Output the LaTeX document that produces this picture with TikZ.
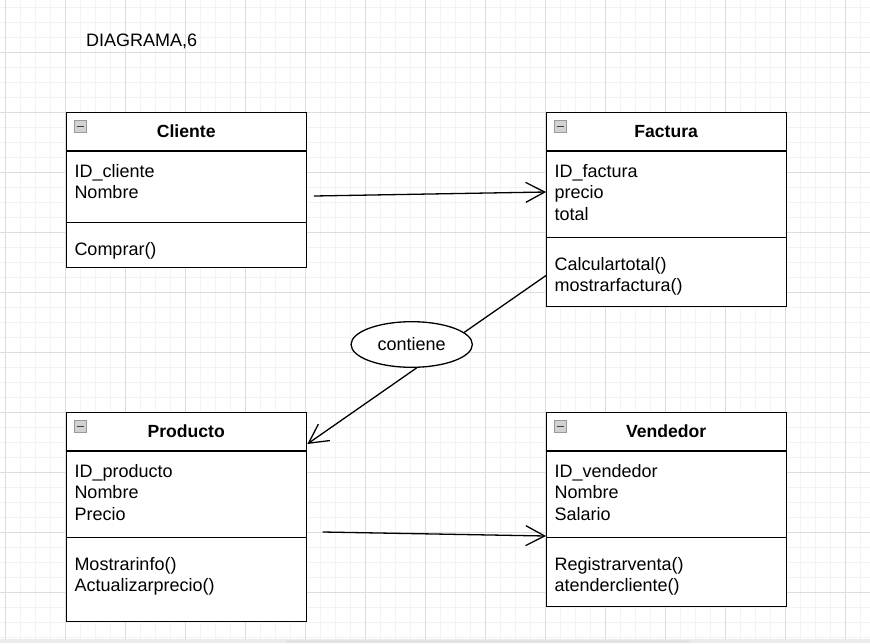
\documentclass[tikz,border=0pt]{standalone}
\usepackage{fontspec}
\setmainfont{Liberation Sans}
\usetikzlibrary{arrows.meta,shapes.geometric,calc}
\definecolor{gridmajor}{HTML}{DDDDDD}
\definecolor{gridminor}{HTML}{F3F3F3}
\definecolor{bandgray}{HTML}{EBEBEB}
\definecolor{bandbar}{HTML}{E3E3E3}
\tikzset{
  classbox/.style={draw=black, fill=white, line width=1.3pt, rectangle, inner sep=0pt},
  sepline/.style={draw=black, line width=1.3pt},
  title/.style={font=\fontsize{17.6}{21}\selectfont\bfseries, inner sep=0pt, anchor=base},
  attr/.style={font=\fontsize{18}{21}\selectfont, inner sep=0pt, anchor=base west},
  conn/.style={draw=black, line width=1.3pt, -{Straight Barb[length=19pt, width=20pt, line width=1.3pt]}},
  plainconn/.style={draw=black, line width=1.3pt},
  iconbox/.style={draw=gray!80, fill=gray!35, line width=0.9pt, rectangle, minimum width=12pt, minimum height=12pt, inner sep=0pt},
}
\begin{document}
\begin{tikzpicture}[x=1pt,y=-1pt]
\useasboundingbox (0,0) rectangle (870,643);
% grid
\foreach \gx in {5,20,...,870} {\draw[gridminor, line width=1pt] (\gx,0) -- (\gx,639);}
\foreach \gy in {7,22,...,639} {\draw[gridminor, line width=1pt] (0,\gy) -- (870,\gy);}
\foreach \gx in {5,65,...,870} {\draw[gridmajor, line width=1pt] (\gx,0) -- (\gx,639);}
\foreach \gy in {52,112,...,639} {\draw[gridmajor, line width=1pt] (0,\gy) -- (870,\gy);}
\fill[bandgray] (0,639) rectangle (870,643);
\fill[bandbar] (286,640) rectangle (689,643);

% title
\node[attr] (diag) at (86,46.7) {DIAGRAMA,6};

% Cliente
\node[classbox, minimum width=240pt, minimum height=155.4pt] (cliente) at (186.7,190) {};
\draw[sepline] (cliente.west |- 0,151) -- (cliente.east |- 0,151);
\draw[sepline] (cliente.west |- 0,222.7) -- (cliente.east |- 0,222.7);
\node[iconbox] (clicon) at (80.4,126.2) {};
\draw[black!75, line width=1.3pt] ($(clicon.center)+(-3.8,0)$) -- ($(clicon.center)+(3.8,0)$);
\node[title] (clt) at (186.2,137.3) {Cliente};
\node[attr] (cla1) at (74.3,177.3) {ID\_cliente};
\node[attr] (cla2) at (74.3,198.6) {Nombre};
\node[attr] (clm1) at (74.3,255) {Comprar()};

% Factura
\node[classbox, minimum width=240pt, minimum height=194.4pt] (factura) at (666.7,209.5) {};
\draw[sepline] (factura.west |- 0,151) -- (factura.east |- 0,151);
\draw[sepline] (factura.west |- 0,237.7) -- (factura.east |- 0,237.7);
\node[iconbox] (faicon) at (560.4,126.2) {};
\draw[black!75, line width=1.3pt] ($(faicon.center)+(-3.8,0)$) -- ($(faicon.center)+(3.8,0)$);
\node[title] (fat) at (666.2,137.3) {Factura};
\node[attr] (faa1) at (554.3,177.3) {ID\_factura};
\node[attr] (faa2) at (554.3,198.6) {precio};
\node[attr] (faa3) at (554.3,220) {total};
\node[attr] (fam1) at (554.3,270.3) {Calculartotal()};
\node[attr] (fam2) at (554.3,291.7) {mostrarfactura()};

% Producto
\node[classbox, minimum width=240pt, minimum height=209.4pt] (producto) at (186.7,517) {};
\draw[sepline] (producto.west |- 0,451) -- (producto.east |- 0,451);
\draw[sepline] (producto.west |- 0,537.7) -- (producto.east |- 0,537.7);
\node[iconbox] (pricon) at (80.4,426.2) {};
\draw[black!75, line width=1.3pt] ($(pricon.center)+(-3.8,0)$) -- ($(pricon.center)+(3.8,0)$);
\node[title] (prt) at (186.2,437.3) {Producto};
\node[attr] (pra1) at (74.3,477.3) {ID\_producto};
\node[attr] (pra2) at (74.3,498.6) {Nombre};
\node[attr] (pra3) at (74.3,520) {Precio};
\node[attr] (prm1) at (74.3,570.3) {Mostrarinfo()};
\node[attr] (prm2) at (74.3,591.7) {Actualizarprecio()};

% Vendedor
\node[classbox, minimum width=240pt, minimum height=194.4pt] (vendedor) at (666.7,509.5) {};
\draw[sepline] (vendedor.west |- 0,451) -- (vendedor.east |- 0,451);
\draw[sepline] (vendedor.west |- 0,537.7) -- (vendedor.east |- 0,537.7);
\node[iconbox] (veicon) at (560.4,426.2) {};
\draw[black!75, line width=1.3pt] ($(veicon.center)+(-3.8,0)$) -- ($(veicon.center)+(3.8,0)$);
\node[title] (vet) at (666.2,437.3) {Vendedor};
\node[attr] (vea1) at (554.3,477.3) {ID\_vendedor};
\node[attr] (vea2) at (554.3,498.6) {Nombre};
\node[attr] (vea3) at (554.3,520) {Salario};
\node[attr] (vem1) at (554.3,570.3) {Registrarventa()};
\node[attr] (vem2) at (554.3,591.7) {atendercliente()};

% association ellipse
\node[draw=black, fill=white, line width=1.3pt, ellipse, minimum width=121.3pt, minimum height=45.6pt, inner sep=0pt, font=\fontsize{18}{21}\selectfont] (contiene) at (411.7,344.5) {contiene};

% connectors
\coordinate (c1s) at ($(cliente.east |- 0,196)+(6.6,0)$);
\coordinate (c1e) at (factura.west |- 0,192);
\draw[conn] (c1s) -- (c1e);

\coordinate (c2s) at ($(producto.east |- 0,532)+(15.3,0)$);
\coordinate (c2e) at (vendedor.west |- 0,536);
\draw[conn] (c2s) -- (c2e);

\coordinate (c3s) at (factura.west |- 0,275.5);
\draw[plainconn] (c3s) -- (contiene.13.5);
\coordinate (c3e) at (producto.east |- 0,444);
\draw[conn] (contiene.-78) -- (c3e);
\end{tikzpicture}
\end{document}
